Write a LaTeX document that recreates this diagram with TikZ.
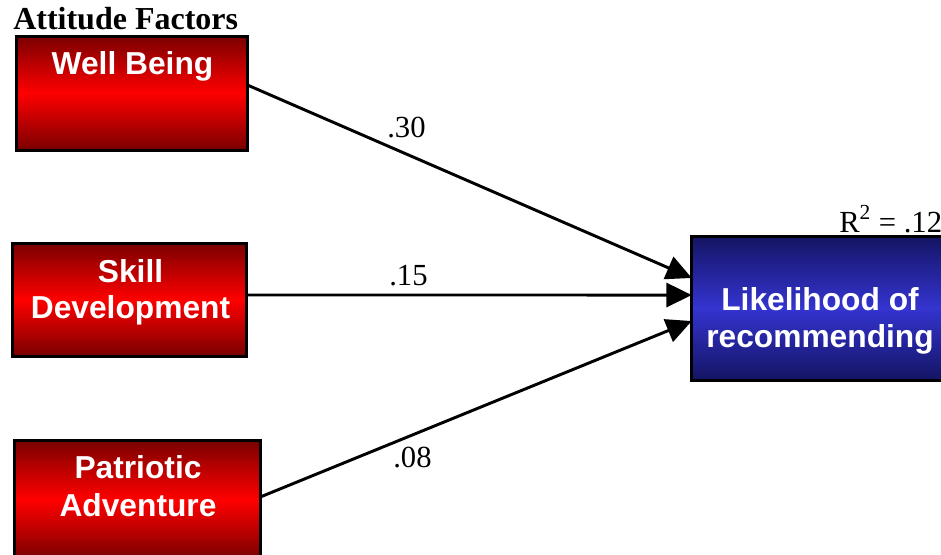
\documentclass[tikz,border=0pt]{standalone}
\usepackage{fontspec}
\setmainfont{Liberation Serif}
\setsansfont{Liberation Sans}
\usetikzlibrary{arrows.meta,calc}
\definecolor{dred}{RGB}{122,0,0}
\definecolor{bred}{RGB}{255,0,0}
\definecolor{dblue}{RGB}{20,20,100}
\definecolor{bblue}{RGB}{52,52,208}
\newcommand\gradfill[3]{%
  \foreach \i in {0,...,59}{%
    \pgfmathsetmacro\ta{\i/60}%
    \pgfmathsetmacro\tb{(\i+1.3)/60}%
    \pgfmathsetmacro\pp{100*(1-abs(2*(\i+0.5)/60-1))}%
    \fill[#2!\pp!#3] ($(#1.north west)!\ta!(#1.south west)$) rectangle ($(#1.north east)!\tb!(#1.south east)$);
  }%
  \draw[boxline] (#1.north west) rectangle (#1.south east);
}
\begin{document}
\begin{tikzpicture}[x=0.75pt,y=0.75pt,
  boxline/.style={draw=black, line width=2.2pt},
  box/.style={inner sep=0pt},
  boxtext/.style={text=white, font=\sffamily\bfseries\fontsize{23.8}{27.75}\selectfont, align=center, inner sep=0pt, anchor=base},
  num/.style={font=\fontsize{23}{27}\selectfont, inner sep=0pt, anchor=base west},
  arr/.style={draw=black, line width=2.2pt, -{Triangle[length=19pt,width=18pt]}}]
\useasboundingbox (0,-554) rectangle (941,0);
\clip (0,-554) rectangle (941,0);
\fill[white] (0,-554) rectangle (941,0);
% boxes
\node[box, minimum width=172.5pt, minimum height=84.75pt] (wb) at (132,-93.5) {};
\node[box, minimum width=174.75pt, minimum height=84pt] (sd) at (129.5,-300) {};
\node[box, minimum width=183.75pt, minimum height=88.5pt] (pa) at (137.5,-500) {};
\node[box, minimum width=192pt, minimum height=107.25pt] (lk) at (820,-308.5) {};
\gradfill{wb}{bred}{dred}
\gradfill{sd}{bred}{dred}
\gradfill{pa}{bred}{dred}
\gradfill{lk}{bblue}{dblue}
% box texts
\node[boxtext] (wbt) at (132.5,-74) {Well Being};
\node[boxtext] (sdt) at (130.5,-318) {Skill\\[-0.75pt]Development};
\node[boxtext] (pat) at (138,-516) {Patriotic\\[0.75pt]Adventure};
\node[boxtext] (lkt) at (820,-347) {Likelihood of\\recommending};
% title
\node[font=\bfseries\fontsize{24}{28}\selectfont, inner sep=0pt, anchor=base west] (title) at (13,-29) {Attitude Factors};
% arrows
\draw[arr] ([yshift=6.4pt]wb.east) -- ([yshift=22.9pt]lk.west);
\draw[arr] ([yshift=3.75pt]sd.east) -- ([yshift=10.1pt]lk.west);
\draw[arr] ([yshift=2.25pt]pa.east) -- ([yshift=-9.4pt]lk.west);
% coefficients
\node[num] (c30) at (387,-137) {.30};
\node[num] (c15) at (389,-285) {.15};
\node[num] (c08) at (393,-467) {.08};
\node[num] (r2) at (839,-232) {R\textsuperscript{2} = .12};
\end{tikzpicture}
\end{document}
